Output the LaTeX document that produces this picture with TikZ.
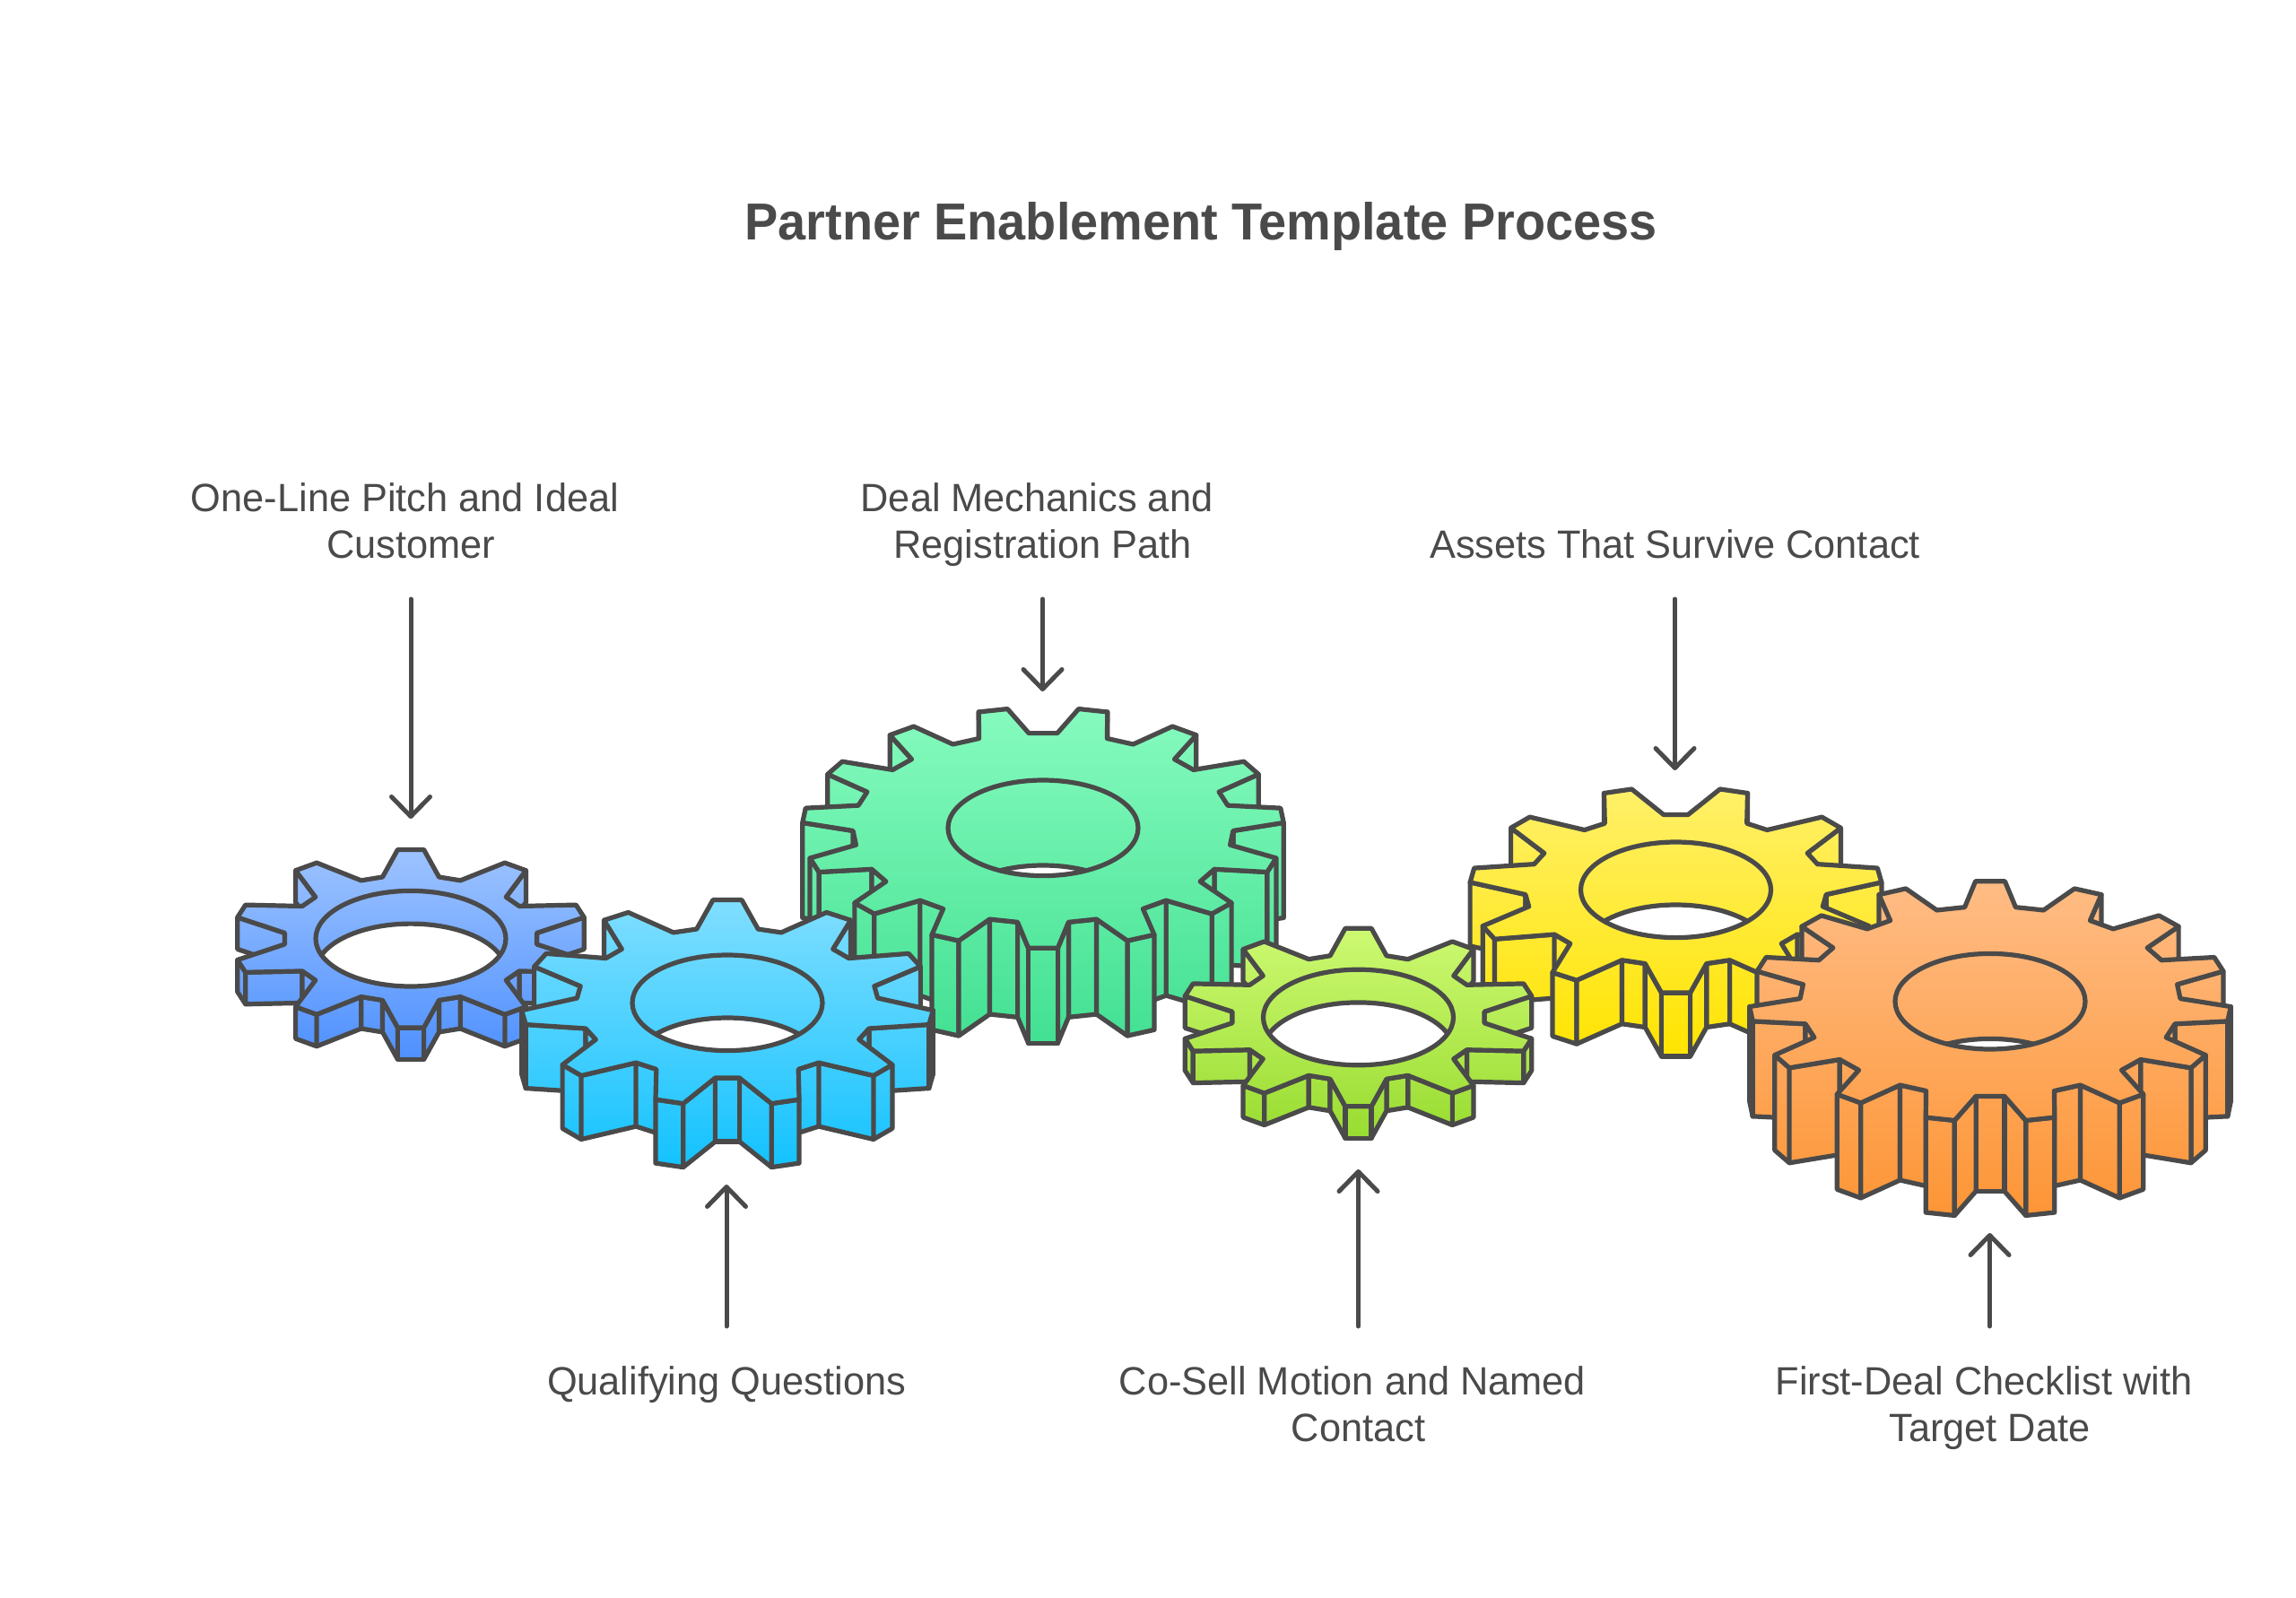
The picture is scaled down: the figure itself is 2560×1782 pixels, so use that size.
\documentclass[tikz,border=0pt]{standalone}
\usepackage{fontspec}
\setmainfont{Liberation Sans}
\newfontfamily\labfont[FakeStretch=0.985]{Liberation Sans}
\newfontfamily\ttlfont[FakeStretch=0.963]{Liberation Sans}
\usetikzlibrary{arrows.meta}
\definecolor{inkc}{HTML}{4A4A4A}
\tikzset{
  gline/.style={draw=inkc,line width=5.2pt,line join=round},
  flow/.style={draw=inkc,line width=5pt,line cap=round,line join=round,
    -{Straight Barb[length=22pt,width=43pt,round]}},
  lab/.style={text=inkc,inner sep=0pt,align=center,font=\labfont\fontsize{44}{52.4}\selectfont},
  ttl/.style={text=inkc,inner sep=0pt,font=\ttlfont\bfseries\fontsize{58}{64}\selectfont}
}
% gear families
\newcommand\gearA{\def\gN{10}\def\grt{199}\def\grv{141}\def\gta{4.2}\def\gva{5.1}\def\gdp{35.5}\def\gdh{36.7}}
\newcommand\gearB{\def\gN{11}\def\grt{230}\def\grv{168}\def\gta{4}\def\gva{4.6}\def\gdp{71}\def\gdh{70}}
\newcommand\gearC{\def\gN{15}\def\grt{268.5}\def\grv{212}\def\gta{3.5}\def\gva{4.3}\def\gdp{106}\def\gdh{95}}
\newcommand\setv[3]{%
  \pgfmathtruncatemacro\gI{#1}%
  \pgfmathsetmacro\gA{#2}%
  \pgfmathsetmacro\gX{\gcx+#3*sin(\gA)}%
  \pgfmathsetmacro\gY{\gcy-0.5*#3*cos(\gA)}%
  \expandafter\xdef\csname vx\gI\endcsname{\gX}%
  \expandafter\xdef\csname vy\gI\endcsname{\gY}%
  \xdef\gpath{\gpath -- (\gX,\gY)}%
}
\newcommand\gface[1]{%
  \pgfmathtruncatemacro\eA{mod(#1+8*\gN,4*\gN)}%
  \pgfmathtruncatemacro\eB{mod(\eA+1,4*\gN)}%
  \edef\xA{\csname vx\eA\endcsname}\edef\yA{\csname vy\eA\endcsname}%
  \edef\xB{\csname vx\eB\endcsname}\edef\yB{\csname vy\eB\endcsname}%
  \pgfmathtruncatemacro\gvis{\xB<\xA?1:0}%
  \ifnum\gvis=1
    \pgfmathsetmacro\yAd{\yA+\gdp}\pgfmathsetmacro\yBd{\yB+\gdp}%
    \begin{scope}
      \clip (\xA,\yA) -- (\xB,\yB) -- (\xB,\yBd) -- (\xA,\yAd) -- cycle;
      \shade[top color=gtop,bottom color=gbot] (\bxa,\bya) rectangle (\bxb,\byb);
    \end{scope}
    \draw[gline] (\xA,\yA) -- (\xB,\yB) -- (\xB,\yBd) -- (\xA,\yAd) -- cycle;
  \fi
}
% #1 cx, #2 cy, #3 phase, #4 top colour, #5 bottom colour
\newcommand\drawgear[5]{%
  \def\gcx{#1}\def\gcy{#2}%
  \definecolor{gtop}{HTML}{#4}\definecolor{gbot}{HTML}{#5}%
  \pgfmathsetmacro\bxa{#1-\grt-5}\pgfmathsetmacro\bxb{#1+\grt+5}%
  \pgfmathsetmacro\bya{#2-0.5*\grt}\pgfmathsetmacro\byb{#2+0.5*\grt+\gdp}%
  \pgfmathsetmacro\gstep{360/\gN}%
  \pgfmathtruncatemacro\gNm{\gN-1}%
  \pgfmathsetmacro\gAz{#3-\gta}%
  \pgfmathsetmacro\gXz{#1+\grt*sin(\gAz)}\pgfmathsetmacro\gYz{#2-0.5*\grt*cos(\gAz)}%
  \xdef\gpath{(\gXz,\gYz)}%
  \foreach \gk in {0,...,\gNm}{%
    \pgfmathsetmacro\tA{#3+\gk*\gstep}%
    \setv{4*\gk}{\tA-\gta}{\grt}%
    \setv{4*\gk+1}{\tA+\gta}{\grt}%
    \setv{4*\gk+2}{\tA+\gstep/2-\gva}{\grv}%
    \setv{4*\gk+3}{\tA+\gstep/2+\gva}{\grv}%
  }%
  \pgfmathtruncatemacro\gT{#3==0?0:2*\gN}%
  \pgfmathtruncatemacro\gH{2*\gN-1}%
  \foreach \gs in {1,...,\gH}{\gface{\gT+\gs}}%
  \foreach \gs in {1,...,\gH}{\gface{\gT-\gs}}%
  \gface{\gT+2*\gN}%
  \begin{scope}
    \clip \gpath -- cycle;
    \shade[top color=gtop,bottom color=gbot] (\bxa,\bya) rectangle (\bxb,\byb);
  \end{scope}
  \draw[gline] \gpath -- cycle;
  \pgfmathsetmacro\gcyd{#2+\gdh}%
  \begin{scope}
    \clip (#1,#2) ellipse [x radius=106pt,y radius=53.3pt];
    \fill[white] (#1,\gcyd) ellipse [x radius=106pt,y radius=53.3pt];
    \draw[gline] (#1,\gcyd) ellipse [x radius=106pt,y radius=53.3pt];
  \end{scope}
  \draw[gline] (#1,#2) ellipse [x radius=106pt,y radius=53.3pt];
}
\begin{document}
\begin{tikzpicture}[x=1pt,y=-1pt]
\useasboundingbox (0,0) rectangle (2560,1782);
\fill[white] (0,0) rectangle (2560,1782);
\gearA\drawgear{458}{1046.7}{0}{9DC3FF}{4E90FF}
\gearC\drawgear{1163}{923.3}{180}{86FBBE}{42E092}
\gearB\drawgear{1868.5}{992.3}{180}{FFF06A}{FFE400}
\gearB\drawgear{811}{1118.3}{0}{80DEFF}{12C2FF}
\gearA\drawgear{1514.5}{1134.5}{0}{CDF972}{98DC30}
\gearC\drawgear{2219}{1116.7}{0}{FFBC85}{FD9535}

\node[ttl] (title) at (1339,253) {Partner Enablement Template Process};
\node[lab,anchor=south] (lab1) at (458,638.7) {One-Line Pitch and Ideal\hspace*{13pt}\\Customer\strut};
\node[lab,anchor=south] (lab2) at (1162.5,638.7) {Deal Mechanics and\hspace*{13pt}\\Registration Path\strut};
\node[lab,anchor=south] (lab3) at (1867.5,638.7) {Assets That Survive Contact\strut};
\node[lab,anchor=north] (lab4) at (810,1523) {Qualifying Questions};
\node[lab,anchor=north] (lab5) at (1514.5,1523) {Co-Sell Motion and Named\hspace*{13pt}\\Contact};
\node[lab,anchor=north] (lab6) at (2218.5,1523) {First-Deal Checklist with\hspace*{13pt}\\Target Date};

\coordinate (s1) at (458,668);  \coordinate (e1) at (458,913);
\coordinate (s2) at (1162.5,668); \coordinate (e2) at (1162.5,771);
\coordinate (s3) at (1867.5,668); \coordinate (e3) at (1867.5,859);
\coordinate (s4) at (810,1479); \coordinate (e4) at (810,1321);
\coordinate (s5) at (1514.5,1479);\coordinate (e5) at (1514.5,1304);
\coordinate (s6) at (2218.5,1479);\coordinate (e6) at (2218.5,1375);
\draw[flow] (lab1.south |- s1) -- (e1);
\draw[flow] (lab2.south |- s2) -- (e2);
\draw[flow] (lab3.south |- s3) -- (e3);
\draw[flow] (lab4.north |- s4) -- (e4);
\draw[flow] (lab5.north |- s5) -- (e5);
\draw[flow] (lab6.north |- s6) -- (e6);
\end{tikzpicture}
\end{document}
